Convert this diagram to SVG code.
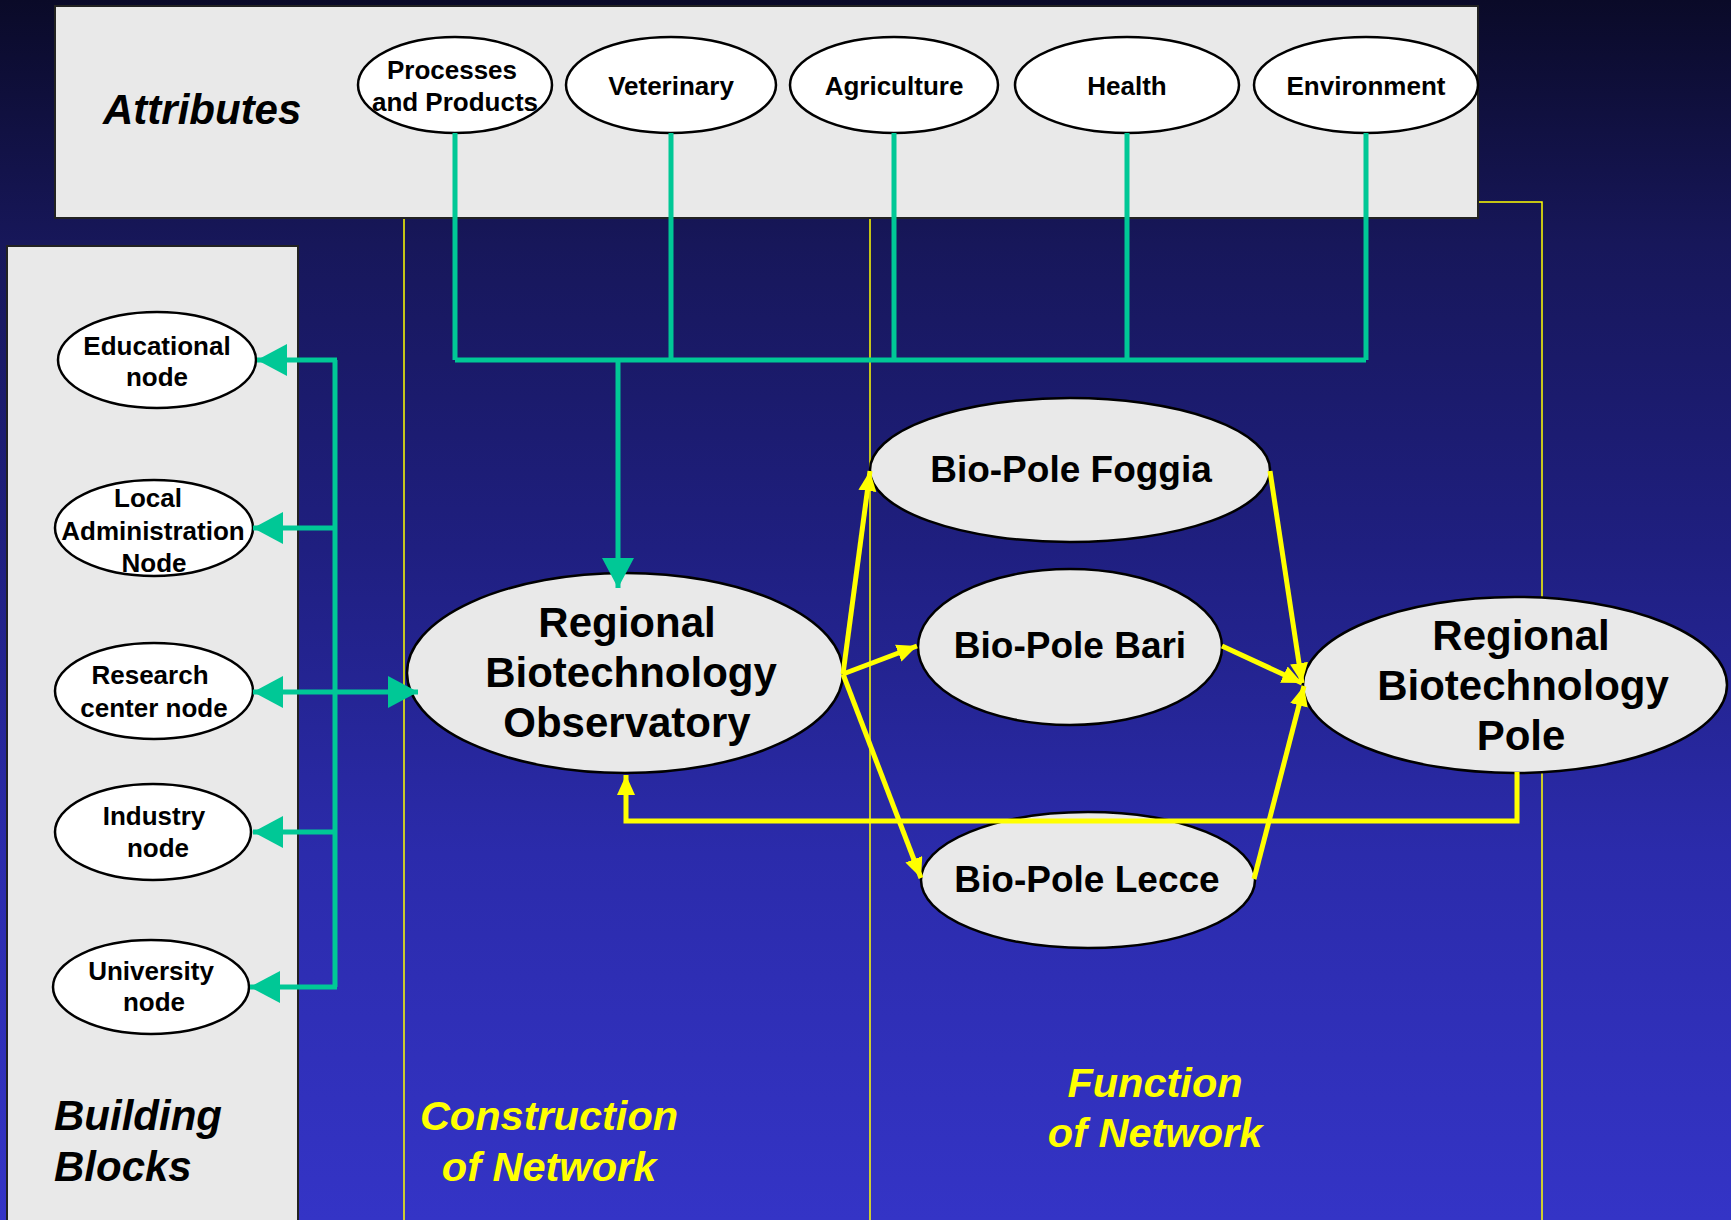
<svg xmlns="http://www.w3.org/2000/svg" width="1731" height="1220" viewBox="0 0 1731 1220">
<defs>
<linearGradient id="bg" x1="0" y1="0" x2="0" y2="1">
<stop offset="0" stop-color="#0a0a28"/>
<stop offset="0.2" stop-color="#17175a"/>
<stop offset="0.45" stop-color="#1f1f80"/>
<stop offset="0.7" stop-color="#2b2bab"/>
<stop offset="1" stop-color="#3434c6"/>
</linearGradient>
<marker id="ga" markerUnits="userSpaceOnUse" markerWidth="32" markerHeight="34" refX="30" refY="16" orient="auto" viewBox="0 0 32 34">
<path d="M0,0 L30,16 L0,32 z" fill="#00c896"/>
</marker>
<marker id="ya" markerUnits="userSpaceOnUse" markerWidth="22" markerHeight="20" refX="20" refY="9" orient="auto" viewBox="0 0 22 20">
<path d="M0,0 L20,9 L0,18 z" fill="#ffff00"/>
</marker>
<style>
.panel{fill:#e9e9e9;stroke:#222;stroke-width:2}
.wn{fill:#ffffff;stroke:#000;stroke-width:2.5}
.gn{fill:#e9e9e9;stroke:#000;stroke-width:2.5}
.t{font-family:"Liberation Sans",Arial,sans-serif;font-weight:bold;fill:#000;text-anchor:middle}
.s26{font-size:26px}
.s37{font-size:37px}
.s42{font-size:42px}
.title{font-family:"Liberation Sans",Arial,sans-serif;font-weight:bold;font-style:italic;font-size:42px;fill:#000}
.ytitle{font-family:"Liberation Sans",Arial,sans-serif;font-weight:bold;font-style:italic;font-size:41.5px;fill:#ffff00;text-anchor:middle}
.thin{fill:none;stroke:#ffff00;stroke-width:1.5}
.g{fill:none;stroke:#00c896;stroke-width:5}
.y{fill:none;stroke:#ffff00;stroke-width:5}
</style>
</defs>
<rect x="0" y="0" width="1731" height="1220" fill="url(#bg)"/>

<g id="dividers">
<line class="thin" x1="404" y1="218" x2="404" y2="1220"/>
<line class="thin" x1="870" y1="218" x2="870" y2="1220"/>
<polyline class="thin" points="1478,202 1542,202 1542,1220"/>
</g>

<g id="attributes-panel">
<rect class="panel" x="55" y="6" width="1423" height="212"/>
<text class="title" x="103" y="124">Attributes</text>
</g>
<g id="building-blocks-panel">
<rect class="panel" x="7" y="246" width="291" height="980"/>
<text class="title" x="54" y="1130">Building</text>
<text class="title" x="54" y="1181">Blocks</text>
</g>

<g id="labels">
<text class="ytitle" x="549" y="1130">Construction</text>
<text class="ytitle" x="549" y="1181">of Network</text>
<text class="ytitle" x="1155" y="1097">Function</text>
<text class="ytitle" x="1155" y="1147">of Network</text>
</g>

<g id="node-processes">
<ellipse class="wn" cx="455" cy="85" rx="97" ry="48"/>
<text class="t s26" x="452" y="79">Processes</text>
<text class="t s26" x="455" y="111">and Products</text>
</g>
<g id="node-veterinary">
<ellipse class="wn" cx="671" cy="85" rx="105" ry="48"/>
<text class="t s26" x="671" y="95">Veterinary</text>
</g>
<g id="node-agriculture">
<ellipse class="wn" cx="894" cy="85" rx="104" ry="48"/>
<text class="t s26" x="894" y="95">Agriculture</text>
</g>
<g id="node-health">
<ellipse class="wn" cx="1127" cy="85" rx="112" ry="48"/>
<text class="t s26" x="1127" y="95">Health</text>
</g>
<g id="node-environment">
<ellipse class="wn" cx="1366" cy="85" rx="112" ry="48"/>
<text class="t s26" x="1366" y="95">Environment</text>
</g>

<g id="node-educational">
<ellipse class="wn" cx="157" cy="360" rx="99" ry="48"/>
<text class="t s26" x="157" y="355">Educational</text>
<text class="t s26" x="157" y="386">node</text>
</g>
<g id="node-local-admin">
<ellipse class="wn" cx="154" cy="528" rx="99" ry="48"/>
<text class="t s26" x="148" y="507">Local</text>
<text class="t s26" x="153" y="540">Administration</text>
<text class="t s26" x="154" y="572">Node</text>
</g>
<g id="node-research">
<ellipse class="wn" cx="154" cy="691" rx="99" ry="48"/>
<text class="t s26" x="150" y="684">Research</text>
<text class="t s26" x="154" y="717">center node</text>
</g>
<g id="node-industry">
<ellipse class="wn" cx="153" cy="832" rx="98" ry="48"/>
<text class="t s26" x="154" y="825">Industry</text>
<text class="t s26" x="158" y="857">node</text>
</g>
<g id="node-university">
<ellipse class="wn" cx="151" cy="987" rx="98" ry="47"/>
<text class="t s26" x="151" y="980">University</text>
<text class="t s26" x="154" y="1011">node</text>
</g>

<g id="node-observatory">
<ellipse class="gn" cx="625" cy="673" rx="218" ry="100"/>
<text class="t s42" x="627" y="637">Regional</text>
<text class="t s42" x="631" y="687">Biotechnology</text>
<text class="t s42" x="627" y="737">Observatory</text>
</g>
<g id="node-foggia">
<ellipse class="gn" cx="1070" cy="470" rx="200" ry="72"/>
<text class="t s37" x="1071" y="482">Bio-Pole Foggia</text>
</g>
<g id="node-bari">
<ellipse class="gn" cx="1070" cy="647" rx="152" ry="78"/>
<text class="t s37" x="1070" y="658">Bio-Pole Bari</text>
</g>
<g id="node-lecce">
<ellipse class="gn" cx="1088" cy="880" rx="167" ry="68"/>
<text class="t s37" x="1087" y="892">Bio-Pole Lecce</text>
</g>
<g id="node-pole">
<ellipse class="gn" cx="1515" cy="685" rx="212" ry="88"/>
<text class="t s42" x="1521" y="650">Regional</text>
<text class="t s42" x="1523" y="700">Biotechnology</text>
<text class="t s42" x="1521" y="750">Pole</text>
</g>

<g id="connectors">
<g id="green-connectors">
<line class="g" x1="455" y1="133" x2="455" y2="360"/>
<line class="g" x1="671" y1="133" x2="671" y2="360"/>
<line class="g" x1="894" y1="133" x2="894" y2="360"/>
<line class="g" x1="1127" y1="133" x2="1127" y2="360"/>
<line class="g" x1="1366" y1="133" x2="1366" y2="360"/>
<polyline class="g" points="455,360 1366,360"/>
<line class="g" x1="618" y1="360" x2="618" y2="588" marker-end="url(#ga)"/>
<line class="g" x1="335" y1="360" x2="335" y2="987"/>
<line class="g" x1="337" y1="360" x2="257" y2="360" marker-end="url(#ga)"/>
<line class="g" x1="335" y1="528" x2="253" y2="528" marker-end="url(#ga)"/>
<line class="g" x1="335" y1="692" x2="253" y2="692" marker-end="url(#ga)"/>
<line class="g" x1="335" y1="692" x2="418" y2="692" marker-end="url(#ga)"/>
<line class="g" x1="335" y1="832" x2="253" y2="832" marker-end="url(#ga)"/>
<line class="g" x1="337" y1="987" x2="250" y2="987" marker-end="url(#ga)"/>
</g>
<g id="yellow-connectors">
<line class="y" x1="843" y1="674" x2="870" y2="471" marker-end="url(#ya)"/>
<line class="y" x1="843" y1="674" x2="917" y2="646" marker-end="url(#ya)"/>
<line class="y" x1="843" y1="674" x2="921" y2="878" marker-end="url(#ya)"/>
<line class="y" x1="1270" y1="471" x2="1302" y2="683" marker-end="url(#ya)"/>
<line class="y" x1="1222" y1="646" x2="1302" y2="683" marker-end="url(#ya)"/>
<line class="y" x1="1254" y1="879" x2="1304" y2="686" marker-end="url(#ya)"/>
<polyline class="y" points="1517,772 1517,821 626,821 626,775" marker-end="url(#ya)"/>
</g>
</g>
</svg>
